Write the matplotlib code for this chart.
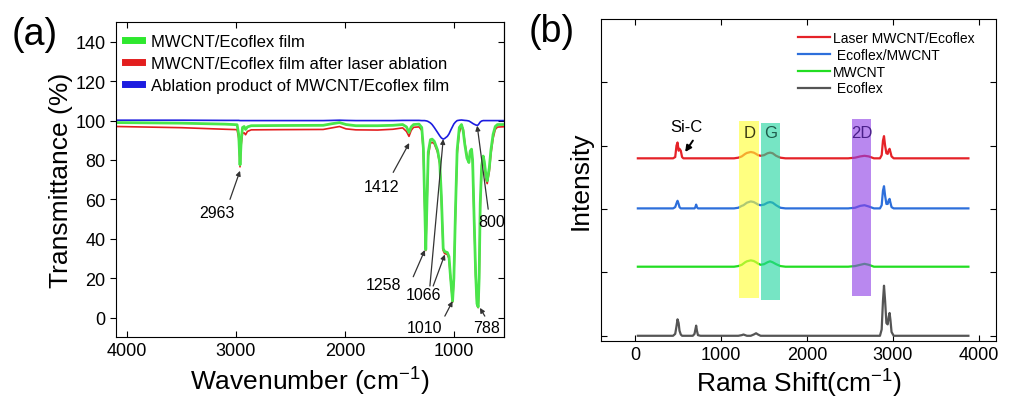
import matplotlib
matplotlib.use('Agg')
import matplotlib.pyplot as plt
from matplotlib.lines import Line2D

plt.rcParams['font.family'] = ['Liberation Sans', 'DejaVu Sans']
plt.rcParams['mathtext.fontset'] = 'custom'
plt.rcParams['mathtext.rm'] = 'Liberation Sans'
plt.rcParams['mathtext.it'] = 'Liberation Sans:italic'

# ---- (a) FTIR spectra ----
ir_wavenumber = [4100, 3500, 3100, 2990, 2975, 2963, 2952, 2940, 2925, 2912, 2895, 2860,
                 2600, 2200, 2120, 2050, 1990, 1900, 1700, 1560, 1470, 1435, 1412, 1392,
                 1370, 1320, 1295, 1280, 1268, 1258, 1248, 1235, 1215, 1200, 1180, 1150,
                 1130, 1115, 1098, 1085, 1060, 1045, 1030, 1012, 1000, 985, 970, 950, 930,
                 915, 900, 880, 862, 850, 838, 828, 815, 800, 788, 777, 768, 758, 745, 731,
                 720, 705, 694, 685, 675, 660, 640, 620, 600, 500]
ir_film = [99.0, 98.7, 98.2, 97.9, 93.0, 77.5, 90.0, 96.5, 97.0, 95.5, 96.8, 97.4,
           97.5, 97.6, 98.4, 99.0, 98.0, 97.4, 97.4, 97.6, 98.0, 96.8, 94.0, 96.8,
           98.0, 98.2, 96.5, 86.0, 58.0, 34.5, 56.0, 84.0, 90.3, 90.6, 89.5, 85.0,
           79.0, 62.0, 35.0, 33.5, 33.0, 31.0, 20.0, 8.3, 20.0, 55.0, 85.0, 96.5, 98.0,
           95.0, 88.0, 81.0, 78.7, 84.5, 85.5, 80.0, 52.0, 22.0, 7.0, 5.4, 20.0, 58.0, 77.0, 82.0,
           79.0, 72.0, 69.4, 72.5, 76.0, 85.0, 93.0, 97.0, 98.0, 98.0]
ir_laser = [97.0, 96.4, 95.6, 95.4, 91.0, 76.5, 88.0, 93.5, 93.8, 92.8, 94.5, 95.3,
            95.4, 95.5, 96.3, 97.0, 95.8, 95.3, 95.2, 95.6, 96.3, 94.5, 92.0, 95.0,
            96.6, 96.8, 95.0, 84.0, 57.0, 34.0, 55.0, 82.0, 88.5, 89.0, 88.2, 84.0,
            78.0, 61.0, 34.0, 32.5, 32.0, 30.0, 19.5, 7.8, 19.0, 54.0, 83.0, 94.0, 97.0,
            96.0, 89.0, 82.0, 80.0, 84.0, 84.5, 79.0, 51.0, 21.0, 6.5, 5.0, 19.0, 56.0, 75.0, 80.0,
            77.5, 70.0, 68.0, 71.0, 74.0, 83.0, 91.0, 95.5, 96.7, 97.0]
ir_product = [100.2, 100.2, 100.1, 100.1, 100.1, 100.0, 100.0, 100.0, 100.0, 100.0, 100.0, 100.0,
              100.0, 100.0, 100.1, 100.2, 100.1, 100.0, 100.0, 100.0, 100.1, 100.1, 100.1, 100.1,
              100.1, 100.1, 100.0, 100.0, 100.0, 99.9, 99.8, 99.5, 98.8, 98.0, 96.5, 94.0,
              92.3, 91.2, 90.6, 90.9, 92.0, 93.2, 95.0, 97.0, 98.3, 99.3, 100.0, 100.2, 100.3,
              100.2, 100.1, 100.0, 99.8, 99.4, 99.0, 98.6, 98.2, 97.8, 97.6, 97.8, 98.5, 99.3, 99.8, 100.0,
              100.0, 100.0, 100.0, 100.0, 100.0, 100.0, 100.0, 100.0, 100.0, 100.0]
ir_names = ['MWCNT/Ecoflex film', 'MWCNT/Ecoflex film after laser ablation',
            'Ablation product of MWCNT/Ecoflex film']

# ---- (b) Raman spectra (height above each baseline) ----
raman_shift = [30, 440, 465, 480, 492, 505, 515, 530, 545, 560, 590, 670, 690, 700, 709, 718,
               730, 760, 1150, 1200, 1240, 1260, 1280, 1300, 1345, 1380, 1407, 1430, 1460,
               1500, 1540, 1570, 1600, 1640, 1690, 1750, 2480, 2560, 2620, 2670, 2720, 2780,
               2850, 2870, 2885, 2897, 2910, 2925, 2940, 2952, 2962, 2972, 2985, 3010, 3880]
raman_laser = [0, 0, 0.02, 0.20, 0.25, 0.12, 0.15, 0.12, 0.02, 0, 0, 0, 0, 0, 0, 0,
               0, 0, 0, 0.01, 0.03, 0.05, 0.07, 0.085, 0.10, 0.09, 0.07, 0.05, 0.04,
               0.05, 0.08, 0.09, 0.08, 0.04, 0.01, 0, 0, 0.01, 0.03, 0.04, 0.03, 0,
               0, 0.05, 0.28, 0.35, 0.20, 0.08, 0.07, 0.13, 0.15, 0.10, 0.03, 0, 0]
raman_composite = [0, 0, 0.02, 0.08, 0.12, 0.07, 0.02, 0, 0, 0, 0, 0, 0, 0.02, 0.06, 0.02,
                   0, 0, 0, 0.01, 0.04, 0.05, 0.07, 0.09, 0.11, 0.10, 0.08, 0.06, 0.05,
                   0.06, 0.09, 0.10, 0.09, 0.05, 0.01, 0, 0, 0.01, 0.04, 0.05, 0.03, 0,
                   0, 0.05, 0.28, 0.35, 0.20, 0.07, 0.07, 0.13, 0.15, 0.09, 0.02, 0, 0]
raman_mwcnt = [0, 0, 0, 0, 0, 0, 0, 0, 0, 0, 0, 0, 0, 0, 0, 0,
               0, 0, 0, 0.01, 0.03, 0.05, 0.07, 0.085, 0.10, 0.09, 0.07, 0.05, 0.03,
               0.04, 0.07, 0.085, 0.07, 0.04, 0.01, 0, 0, 0.01, 0.03, 0.045, 0.03, 0,
               0, 0, 0, 0, 0, 0, 0, 0, 0, 0, 0, 0, 0]
raman_ecoflex = [0, 0, 0.03, 0.15, 0.26, 0.20, 0.08, 0.02, 0, 0, 0, 0, 0.03, 0.10, 0.16, 0.08,
                 0.01, 0, 0, 0, 0.01, 0.02, 0.01, 0, 0, 0.02, 0.04, 0.02, 0,
                 0, 0, 0, 0, 0, 0, 0, 0, 0, 0, 0, 0, 0,
                 0, 0.10, 0.55, 0.79, 0.55, 0.20, 0.18, 0.30, 0.36, 0.25, 0.06, 0, 0]
raman_offsets = [2.8, 2.01, 1.09, 0.0]
raman_names = ['Laser MWCNT/Ecoflex', ' Ecoflex/MWCNT', 'MWCNT', ' Ecoflex']
raman_colors = ['#e52228', '#2d6fdb', '#22dd22', '#555555']

band_names = ['D', 'G', '2D']
band_ranges = [(1213, 1440), (1460, 1690), (2527, 2745)]
band_colors = ['#ffff33', '#22d6a0', '#8e3fe6']
band_text_colors = ['#3a3a12', '#1e5a4a', '#4a1f8a']

fig = plt.figure(figsize=(10.1, 4.06), dpi=100)
ax1 = fig.add_axes([0.115, 0.167, 0.384, 0.776])
ax2 = fig.add_axes([0.595, 0.158, 0.391, 0.793])

# panel (a)
ax1.plot(ir_wavenumber, ir_laser, color='#e31e1e', lw=1.2)
ax1.plot(ir_wavenumber, ir_film, color='#4ae64a', lw=2.0)
ax1.plot(ir_wavenumber, ir_product, color='#1c1ce0', lw=1.2)
ax1.set_xlim(4100, 540)
ax1.set_ylim(-10, 150)
ax1.set_xticks([4000, 3000, 2000, 1000])
ax1.set_yticks(range(0, 141, 20))
ax1.tick_params(axis='both', labelsize=13, length=4, width=0.8)
ax1.tick_params(axis='x', direction='in', top=True)
ax1.tick_params(axis='y', direction='out', right=False)
ax1r = ax1.secondary_yaxis('right')
ax1r.set_yticks(range(0, 141, 20))
ax1r.tick_params(direction='in', length=4, labelright=False)
ax1.set_xlabel('Wavenumber (cm$^{-1}$)', fontsize=19, labelpad=4)
ax1.set_ylabel('Transmittance (%)', fontsize=19, labelpad=2)

hands = [Line2D([], [], color='#2ee82e', lw=5), Line2D([], [], color='#e31e1e', lw=5),
         Line2D([], [], color='#1c1ce0', lw=5)]
ax1.legend(hands, ir_names, loc='upper left', bbox_to_anchor=(0.022, 0.962), frameon=False,
           fontsize=12, handlelength=1.05, handletextpad=0.55, labelspacing=0.42,
           borderpad=0, borderaxespad=0)

arrow = dict(arrowstyle='-|>', color='#333333', lw=0.9, mutation_scale=7, shrinkA=0, shrinkB=0)
ann_fs = 11.5
ax1.text(3177, 53.3, '2963', fontsize=ann_fs, ha='center', va='center')
ax1.annotate('', xy=(2963, 74.5), xytext=(3055, 60), arrowprops=arrow)
ax1.text(1663, 66.5, '1412', fontsize=ann_fs, ha='center', va='center')
ax1.annotate('', xy=(1410, 88.6), xytext=(1557, 73.7), arrowprops=arrow)
ax1.text(1648, 16.8, '1258', fontsize=ann_fs, ha='center', va='center')
ax1.annotate('', xy=(1266, 34.3), xytext=(1373, 20.7), arrowprops=arrow)
ax1.text(1282, 11.7, '1066', fontsize=ann_fs, ha='center', va='center')
ax1.annotate('', xy=(1098, 90.6), xytext=(1220, 16), arrowprops=arrow)
ax1.annotate('', xy=(1083, 32), xytext=(1190, 16), arrowprops=arrow)
ax1.text(1266, -5.3, '1010', fontsize=ann_fs, ha='center', va='center')
ax1.annotate('', xy=(1012, 8.3), xytext=(1083, 0.7), arrowprops=arrow)
ax1.text(700, -5.3, '788', fontsize=ann_fs, ha='center', va='center')
ax1.annotate('', xy=(761, 4.9), xytext=(716, 0.7), arrowprops=arrow)
ax1.text(654, 49, '800', fontsize=ann_fs, ha='center', va='center')
ax1.annotate('', xy=(786, 97.4), xytext=(685, 55), arrowprops=arrow)

# panel (b)
spectra = [raman_laser, raman_composite, raman_mwcnt, raman_ecoflex]
for vals, off, name, col in zip(spectra, raman_offsets, raman_names, raman_colors):
    ax2.plot(raman_shift, [v + off for v in vals], color=col, lw=1.6, label=name)

band_bottom = [0.59, 0.57, 0.62]
band_top = [3.39, 3.36, 3.42]
for (x0, x1), c, b, t in zip(band_ranges, band_colors, band_bottom, band_top):
    ax2.fill_between([x0, x1], b, t, color=c, alpha=0.62, lw=0, zorder=3)
for name, (x0, x1), tc in zip(band_names, band_ranges, band_text_colors):
    ax2.text((x0 + x1) / 2, 3.21, name, fontsize=12, ha='center', va='center',
             color=tc, zorder=4)

ax2.text(601, 3.31, 'Si-C', fontsize=12, ha='center', va='center')
ax2.annotate('', xy=(581, 2.90), xytext=(671, 3.08),
             arrowprops=dict(arrowstyle='-|>', color='black', lw=1.4, mutation_scale=9,
                             shrinkA=0, shrinkB=0))

ax2.set_xlim(-400, 4200)
ax2.set_ylim(-0.08, 5.0)
ax2.set_xticks([0, 1000, 2000, 3000, 4000])
ax2.set_yticks([0, 1, 2, 3, 4])
ax2.tick_params(axis='both', direction='in', top=True, right=True, length=4, width=0.8,
                labelsize=13, labelleft=False)
ax2.set_xlabel('Rama Shift(cm$^{-1}$)', fontsize=19, labelpad=3)
ax2.set_ylabel('Intensity', fontsize=19, labelpad=6)
ax2.legend(loc='upper left', bbox_to_anchor=(0.5, 0.962), frameon=False, fontsize=10,
           handlelength=2.3, handletextpad=0.2, labelspacing=0.2, borderpad=0,
           borderaxespad=0)

fig.text(0.012, 0.914, '(a)', fontsize=27, va='center')
fig.text(0.523, 0.92, '(b)', fontsize=27, va='center')

fig.savefig('out.png', dpi=100)
